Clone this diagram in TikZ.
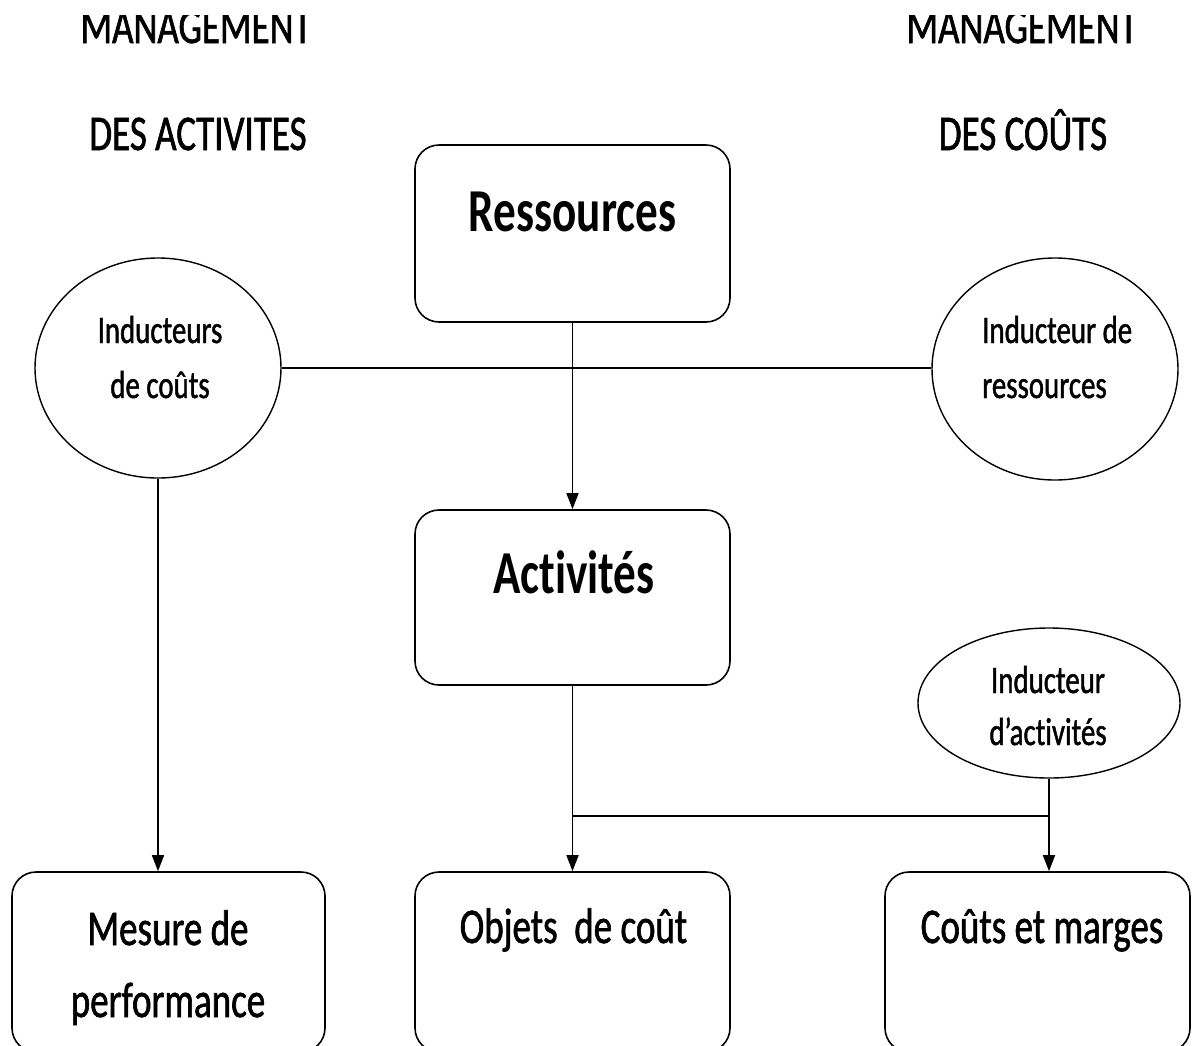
\documentclass[tikz,border=0pt]{standalone}
\usepackage{fontspec}
\setmainfont{Carlito}[FakeStretch=0.74, Ligatures=NoCommon]
\newfontfamily\bodyfont{Carlito}[FakeStretch=0.74, Ligatures=NoCommon, FakeBold=1.2]
\usetikzlibrary{arrows.meta,shapes.geometric}
\begin{document}
\begin{tikzpicture}[x=1pt,y=-1pt,
  box/.style={draw, line width=1.6pt, rounded corners=24pt, inner sep=0pt},
  ell/.style={draw, ellipse, line width=1.4pt, inner sep=0pt},
  link/.style={line width=1.5pt},
  flow/.style={link, -{Triangle[length=16pt,width=12pt]}},
  head/.style={font=\bodyfont\fontsize{50}{60}\selectfont, anchor=base, inner sep=0pt},
  big/.style={font=\bfseries\fontsize{61}{70}\selectfont, anchor=base, inner sep=0pt},
  lbl/.style={font=\bodyfont\fontsize{50}{60}\selectfont, anchor=base, inner sep=0pt},
  small/.style={font=\bodyfont\fontsize{39}{45}\selectfont, anchor=base, inner sep=0pt}]
\useasboundingbox (0,0) rectangle (1192,1045);

% column headings (top line cut by the frame)
\begin{scope}
  \clip (0,15) rectangle (1192,1045);
  \node[head] (hl1) at (196,43) {MANAGEMENT};
  \node[head] (hr1) at (1022,43) {MANAGEMENT};
\end{scope}
\node[head] (hl2) at (198,150) {DES ACTIVITES};
\node[head] (hr2) at (1023,150) {DES COÛTS};

% main boxes
\node[box, minimum width=315pt, minimum height=177pt] (res) at (572.5,233.5) {};
\node[big] (restxt) at (572.5,231) {Ressources};
\node[box, minimum width=315pt, minimum height=175pt] (act) at (572.5,597.5) {};
\node[big] (acttxt) at (574,593) {Activités};

% bottom boxes
\node[box, minimum width=313pt, minimum height=180pt] (mes) at (168.5,962) {};
\node[lbl] (mes1) at (168,945) {Mesure de};
\node[lbl] (mes2) at (168,1017) {performance};
\node[box, minimum width=315pt, minimum height=180pt] (obj) at (572.5,962) {};
\node[lbl] (objtxt) at (573.5,943) {Objets\ \ de coût};
\node[box, minimum width=305pt, minimum height=180pt] (cm) at (1037.5,962) {};
\node[lbl] (cmtxt) at (1042,943) {Coûts et marges};

% drivers
\node[ell, minimum width=246pt, minimum height=220pt] (ic) at (158,368) {};
\node[small] (ic1) at (160,343) {Inducteurs};
\node[small] (ic2) at (160,398) {de coûts};
\node[ell, minimum width=246pt, minimum height=222pt] (ir) at (1055,369) {};
\node[small, anchor=base west] (ir1) at (982,343) {Inducteur de};
\node[small, anchor=base west] (ir2) at (982,398) {ressources};
\node[ell, minimum width=262pt, minimum height=150pt] (ia) at (1049,703) {};
\node[small] (ia1) at (1048,693) {Inducteur};
\node[small] (ia2) at (1048,745) {d’activités};

% connectors
\draw[link] (ic.east) -- (ic.east -| ir.west);
\draw[flow] (res.south) -- (act.north);
\draw[flow] (ic.south) -- (ic.south |- mes.north);
\draw[flow] (act.south) -- (obj.north);
\coordinate (j) at (572.5,816);
\draw[link] (j) -- (j -| ia.south);
\draw[flow] (ia.south) -- (ia.south |- cm.north);
\end{tikzpicture}
\end{document}
